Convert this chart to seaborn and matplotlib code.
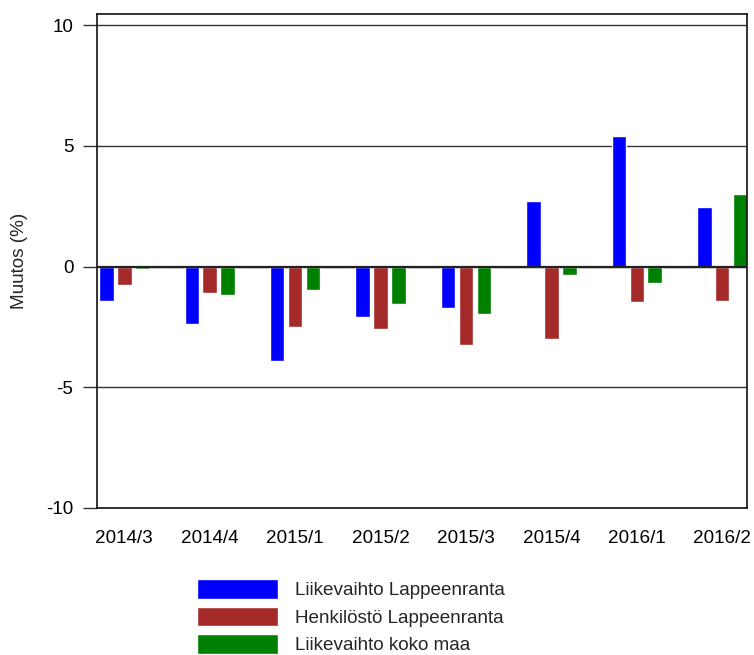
import matplotlib
matplotlib.use("Agg")
import matplotlib.pyplot as plt
import seaborn as sns
import pandas as pd

categories = ["2014/3", "2014/4", "2015/1", "2015/2", "2015/3", "2015/4", "2016/1", "2016/2"]
series_names = ["Liikevaihto Lappeenranta", "Henkilöstö Lappeenranta", "Liikevaihto koko maa"]
liikevaihto_lpr = [-1.41, -2.39, -3.93, -2.07, -1.73, 2.71, 5.39, 2.46]
henkilosto_lpr = [-0.78, -1.10, -2.49, -2.60, -3.25, -3.00, -1.46, -1.41]
liikevaihto_maa = [-0.11, -1.19, -0.97, -1.56, -1.96, -0.36, -0.69, 3.02]
colors = ["#0000FF", "#A52A2A", "#008000"]
y_label = "Muutos (%)"
y_ticks = [-10, -5, 0, 5, 10]

rows = []
for name, vals in zip(series_names, [liikevaihto_lpr, henkilosto_lpr, liikevaihto_maa]):
    for c, v in zip(categories, vals):
        rows.append({"Jakso": c, "Sarja": name, "Arvo": v})
df = pd.DataFrame(rows)

sns.set_style("white")
plt.rcParams["font.family"] = ["Liberation Sans", "DejaVu Sans"]

W, H = 754, 655
fig = plt.figure(figsize=(W / 100, H / 100), dpi=100)
ax = fig.add_axes([97 / W, 1 - 508 / H, (747 - 97) / W, (508 - 14) / H])

sns.barplot(data=df, x="Jakso", y="Arvo", hue="Sarja", order=categories,
            hue_order=series_names, palette=colors, saturation=1,
            width=0.63, gap=0.19, ax=ax, legend=True, zorder=2)

ax.set_xlim(-0.32, 7.29)
ax.set_ylim(-10, 10.46)
ax.set_yticks(y_ticks)
ax.set_yticklabels([str(t) for t in y_ticks])
ax.yaxis.grid(True, color="#333333", lw=1)
ax.set_axisbelow(True)
ax.axhline(0, color="#222222", lw=1.6, zorder=3)

for s in ax.spines.values():
    s.set_color("#111111")
    s.set_linewidth(1.2)

ax.tick_params(axis="y", which="both", left=True, length=10, width=1, color="#333333",
               pad=7, labelsize=13.6, labelcolor="black")
ax.tick_params(axis="x", length=0, pad=16, labelsize=13.6, labelcolor="black")
ax.set_xlabel("")
ax.set_ylabel(y_label, fontsize=13.6, labelpad=13)

handles, labels = ax.get_legend_handles_labels()
ax.get_legend().remove()
fig.legend(handles, labels, loc="upper left", bbox_to_anchor=(197 / W, 1 - 579 / H),
           frameon=False, fontsize=13.6, handlelength=4.3, handleheight=1.25,
           handletextpad=0.9, labelspacing=0.38, borderpad=0, borderaxespad=0)

fig.savefig("out.png", dpi=100)
